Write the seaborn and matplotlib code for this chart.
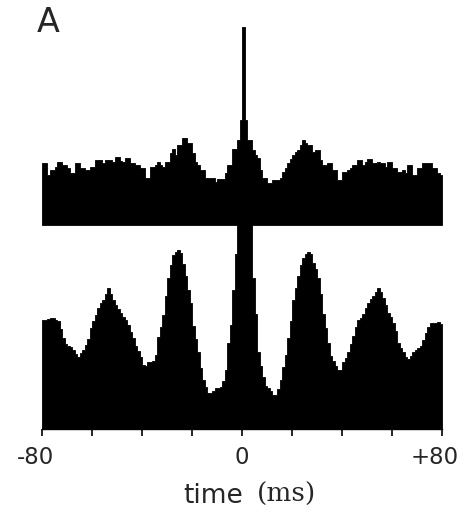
import numpy as np
import pandas as pd
import matplotlib
matplotlib.use("Agg")
import matplotlib.pyplot as plt
import matplotlib.transforms as mtransforms
import seaborn as sns

# Cross-correlogram, 1 ms bins from -80 to +80 ms (counts per bin)
bin_edges_ms = list(range(-80, 81))

upper_counts = [
    62, 62, 50, 55, 55, 58, 63, 63, 60, 60, 57, 52, 52, 62, 62, 57, 57, 55, 55, 58,
    58, 65, 65, 65, 62, 65, 65, 65, 63, 68, 68, 64, 63, 67, 67, 62, 62, 60, 60, 57,
    57, 47, 47, 58, 58, 60, 63, 60, 58, 63, 63, 72, 76, 70, 80, 80, 87, 87, 82, 82,
    72, 63, 60, 55, 55, 47, 47, 47, 47, 43, 46, 46, 46, 52, 60, 60, 76, 76, 85, 105,
    198, 105, 85, 85, 75, 70, 67, 55, 47, 47, 42, 42, 45, 45, 45, 47, 53, 57, 62, 66,
    70, 73, 75, 80, 85, 82, 80, 80, 73, 75, 75, 65, 60, 60, 62, 62, 55, 55, 45, 45,
    53, 53, 55, 57, 60, 60, 65, 65, 60, 63, 66, 66, 62, 62, 63, 62, 62, 58, 63, 63,
    57, 57, 53, 53, 55, 52, 60, 60, 50, 50, 57, 57, 62, 62, 62, 62, 57, 57, 52, 50,
]

lower_counts = [
    109, 109, 110, 111, 111, 109, 108, 100, 91, 85, 83, 82, 79, 75, 72, 76, 79, 84, 90, 101,
    108, 114, 121, 126, 129, 135, 141, 135, 129, 124, 120, 116, 112, 109, 104, 97, 91, 83, 78, 72,
    64, 63, 67, 67, 68, 74, 92, 102, 114, 133, 151, 164, 174, 177, 179, 176, 165, 153, 139, 126,
    103, 90, 77, 61, 49, 42, 36, 36, 38, 41, 41, 42, 48, 59, 86, 104, 139, 175, 210, 215,
    215, 215, 210, 205, 151, 115, 77, 63, 52, 43, 41, 38, 34, 34, 40, 49, 62, 74, 91, 108,
    129, 141, 153, 164, 171, 175, 177, 175, 166, 160, 151, 135, 115, 101, 86, 73, 68, 63, 59, 59,
    67, 71, 77, 85, 93, 102, 109, 111, 115, 121, 126, 130, 133, 137, 141, 137, 131, 124, 116, 112,
    106, 98, 86, 81, 77, 72, 70, 73, 77, 79, 81, 83, 89, 96, 102, 106, 106, 106, 107, 105,
]

major_ticks = [-80, 0, 80]
major_labels = ["-80", "0", "+80"]
minor_ticks = [-60, -40, -20, 20, 40, 60]

centers = [(a + b) / 2 for a, b in zip(bin_edges_ms[:-1], bin_edges_ms[1:])]
upper_df = pd.DataFrame({"time": centers, "count": upper_counts})
lower_df = pd.DataFrame({"time": centers, "count": lower_counts})

sns.set_style("white")
plt.rcParams["font.family"] = ["DejaVu Sans"]

W, H = 459, 513
fig = plt.figure(figsize=(W / 100, H / 100), dpi=100)

x0, x1 = 42, 442
ax_low = fig.add_axes([x0 / W, (H - 429) / H, (x1 - x0) / W, 204 / H])
ax_up = fig.add_axes([x0 / W, (H - 225) / H, (x1 - x0) / W, 205 / H])

for ax, df, top in ((ax_up, upper_df, 205), (ax_low, lower_df, 204)):
    sns.histplot(data=df, x="time", weights="count", bins=bin_edges_ms,
                 element="step", fill=True, color="black", alpha=1,
                 linewidth=0.6, edgecolor="black", ax=ax)
    ax.set_xlim(-80, 80)
    ax.set_ylim(0, top)
    ax.set_xlabel("")
    ax.set_ylabel("")
    ax.set_yticks([])
    for side in ("top", "left", "right"):
        ax.spines[side].set_visible(False)

ax_up.spines["bottom"].set_visible(False)
ax_up.set_xticks([])

ax_low.spines["bottom"].set_color("black")
ax_low.spines["bottom"].set_linewidth(1.0)
ax_low.set_xticks(major_ticks)
ax_low.set_xticklabels(major_labels)
ax_low.set_xticks(minor_ticks, minor=True)
ax_low.tick_params(axis="x", which="both", direction="out", length=5,
                   width=1.2, color="black", bottom=True)
ax_low.tick_params(axis="x", which="major", labelsize=16.5, pad=7)

# nudge the end labels left so the right one stays inside the figure
shift = {"-80": -6, "+80": -7}
for lab in ax_low.get_xticklabels():
    lab.set_fontfamily("DejaVu Sans")
    dx = shift.get(lab.get_text(), 0)
    if dx:
        lab.set_transform(lab.get_transform() +
                          mtransforms.ScaledTranslation(dx / 100, 0, fig.dpi_scale_trans))

# panel letter and axis title (sans "time", serif unit)
fig.text(37 / W, 1 - 32 / H, "A", fontsize=24, family="DejaVu Sans",
         ha="left", va="baseline")
fig.text(183 / W, 1 - 503 / H, "time", fontsize=19, family="DejaVu Sans",
         ha="left", va="baseline")
fig.text(257 / W, 1 - 502 / H, "(ms)", fontsize=19, family="DejaVu Serif",
         ha="left", va="baseline")

fig.savefig("out.png", dpi=100)
